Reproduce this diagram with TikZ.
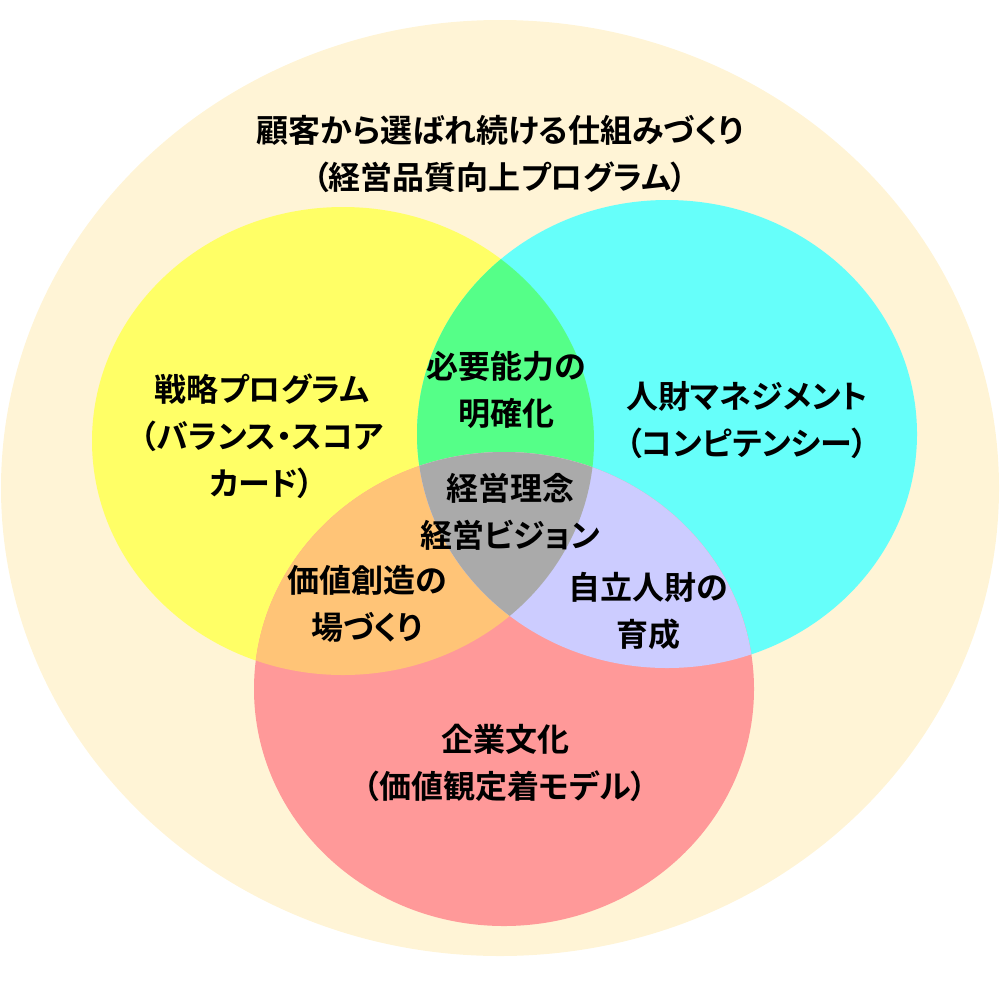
\documentclass[tikz,border=0pt]{standalone}
\usepackage{fontspec}
\newfontfamily\jp{Noto Sans CJK JP}[BoldFont={Noto Sans CJK JP Bold},RawFeature=+palt]
\definecolor{outerc}{RGB}{255,244,214}
\definecolor{yel}{RGB}{255,255,102}
\definecolor{cya}{RGB}{102,255,250}
\definecolor{red}{RGB}{255,153,153}
\definecolor{gre}{RGB}{85,255,136}
\definecolor{ora}{RGB}{255,196,119}
\definecolor{lav}{RGB}{204,204,255}
\definecolor{gry}{RGB}{170,170,170}
\begin{document}
\begin{tikzpicture}[x=1pt,y=-1pt,
  lbl/.style={font=\jp\bfseries\fontsize{32}{47}\selectfont, align=center, inner sep=0pt, text=black}]
\useasboundingbox (0,0) rectangle (1000,980);
\def\Ypath{(343,441) ellipse [x radius=251, y radius=234]}
\def\Cpath{(667,434) ellipse [x radius=250, y radius=234]}
\def\Rpath{(504,689) ellipse [x radius=250, y radius=237]}
% outer region
\fill[outerc] (500,488) ellipse [x radius=499, y radius=468];
% circles
\fill[yel] \Ypath;
\fill[cya] \Cpath;
\fill[red] \Rpath;
% pairwise overlaps
\begin{scope}\clip \Ypath; \fill[gre] \Cpath; \end{scope}
\begin{scope}\clip \Ypath; \fill[ora] \Rpath; \end{scope}
\begin{scope}\clip \Cpath; \fill[lav] \Rpath; \end{scope}
% triple overlap
\begin{scope}\clip \Ypath; \clip \Cpath; \fill[gry] \Rpath; \end{scope}
% labels
\node[lbl] (title) at (500,154) {顧客から選ばれ続ける仕組みづくり\\（経営品質向上プログラム）};
\node[lbl] (strat) at (262,436) {戦略プログラム\\（バランス・スコア\\カード）};
\node[lbl] (hr) at (747,420) {人財マネジメント\\（コンピテンシー）};
\node[lbl] (culture) at (505,763) {企業文化\\（価値観定着モデル）};
\node[lbl] (ability) at (506,390) {必要能力の\\明確化};
\node[lbl] (value) at (367,604) {価値創造の\\場づくり};
\node[lbl] (indep) at (648,611) {自立人財の\\育成};
\node[lbl] (vision) at (510,512) {経営理念\\経営ビジョン};
\end{tikzpicture}
\end{document}
